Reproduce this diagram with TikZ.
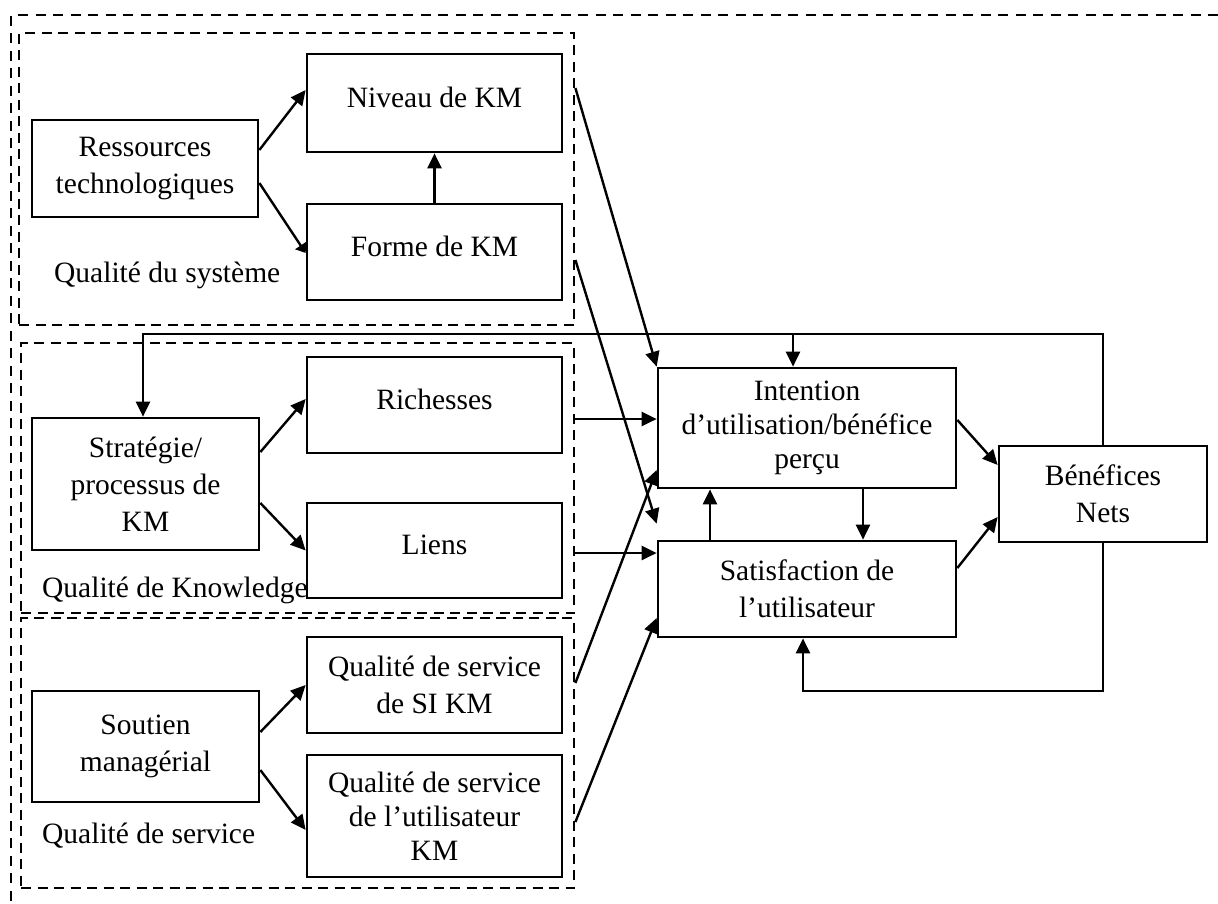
\documentclass[tikz,border=0pt]{standalone}
\usepackage{fontspec}
\setmainfont{Liberation Serif}
\usetikzlibrary{arrows.meta}
\tikzset{
  txt/.style={font=\fontsize{29.5}{37}\selectfont},
  box/.style={draw, line width=2.7pt, inner sep=0pt, align=center, txt},
  tight/.style={font=\fontsize{29.5}{34}\selectfont},
  oneline/.style={text depth=12pt},
  grp/.style={draw, line width=2.8pt, dash pattern=on 10pt off 6.5pt, inner sep=0pt},
  outerline/.style={line width=2.8pt, dash pattern=on 10pt off 7.5pt},
  lbl/.style={txt, inner sep=0pt},
  conn/.style={line width=2.4pt, -{Triangle[length=15pt,width=14pt]}},
  connstub/.style={line width=2.4pt, -{Triangle[length=9pt,width=13pt]}}
}
\begin{document}
\begin{tikzpicture}[x=1pt,y=-1pt]
\useasboundingbox (0,0) rectangle (1218,903);
\draw[outerline] (1218,15) -- (11,15) -- (11,903);
% groups
\node[grp, minimum width=555pt, minimum height=292pt] (g1) at (296.5,179) {};
\node[grp, minimum width=553pt, minimum height=270pt] (g2) at (297.5,478) {};
\node[grp, minimum width=553pt, minimum height=270pt] (g3) at (297.5,753) {};
% boxes
\node[box, minimum width=226pt, minimum height=97pt] (res) at (145,168.5) {Ressources\\technologiques};
\node[box, oneline, minimum width=255pt, minimum height=98pt] (niv) at (434.5,103) {Niveau de KM};
\node[box, oneline, minimum width=255pt, minimum height=96pt] (forme) at (434.5,252) {Forme de KM};
\node[box, minimum width=227pt, minimum height=132pt] (strat) at (145.5,484) {Stratégie/\\processus de\\KM};
\node[box, oneline, minimum width=255pt, minimum height=96pt] (rich) at (434.5,405) {Richesses};
\node[box, oneline, minimum width=255pt, minimum height=95pt] (liens) at (434.5,550.5) {Liens};
\node[box, minimum width=227pt, minimum height=111pt] (sout) at (145.5,746.5) {Soutien\\managérial};
\node[box, minimum width=255pt, minimum height=96pt] (sikm) at (434.5,685) {Qualité de service\\de SI KM};
\node[box, tight, minimum width=255pt, minimum height=122pt] (ukm) at (434.5,816) {Qualité de service\\de l’utilisateur\\KM};
\node[box, tight, minimum width=298pt, minimum height=120pt] (int) at (807,428) {Intention\\d’utilisation/bénéfice\\perçu};
\node[box, minimum width=298pt, minimum height=96pt] (sat) at (807,589) {Satisfaction de\\l’utilisateur};
\node[box, minimum width=208pt, minimum height=96pt] (ben) at (1103,494) {Bénéfices\\Nets};
% labels
\node[lbl, anchor=base west] (lsys) at (54,282) {Qualité du système};
\node[lbl, anchor=base west] (lkn) at (42,597) {Qualité de Knowledge};
\node[lbl, anchor=base west] (lsv) at (42,843) {Qualité de service};
% arrows inside groups
\draw[conn] ([yshift=18.5pt]res.east) -- ([yshift=13pt]niv.west);
\draw[connstub] ([yshift=-14.5pt]res.east) -- ([yshift=-1pt]forme.west);
\draw[conn] (forme.north) -- (niv.south);
\draw[conn] ([yshift=32pt]strat.east) -- ([yshift=6pt]rich.west);
\draw[conn] ([yshift=-19pt]strat.east) -- (liens.west);
\draw[conn] ([yshift=14.5pt]sout.east) -- (sikm.west);
\draw[conn] ([yshift=-23.5pt]sout.east) -- ([yshift=-14pt]ukm.west);
% arrows from groups
\draw[conn] ([yshift=91pt]g1.east) -- (int.north west);
\draw[conn] ([yshift=-81pt]g1.east) -- ([yshift=16pt]sat.north west);
\draw[conn] ([yshift=59pt]g2.east) -- ([yshift=9pt]int.west);
\draw[conn] ([yshift=-75pt]g2.east) -- ([yshift=36pt]sat.west);
\draw[conn] ([yshift=70pt]g3.east) -- ([yshift=-42pt]int.west);
\draw[conn] ([yshift=-69pt]g3.east) -- ([yshift=-29pt]sat.west);
% central arrows
\draw[conn] ([xshift=56pt]int.south) -- ([xshift=56pt]sat.north);
\draw[conn] ([xshift=-97pt]sat.north) -- ([xshift=-97pt]int.south);
\draw[conn] ([yshift=8pt]int.east) -- ([yshift=29pt]ben.west);
\draw[conn] ([yshift=21pt]sat.east) -- ([yshift=-23pt]ben.west);
% feedback loops
\coordinate (topy) at (0,334);
\coordinate (boty) at (0,691);
\coordinate (st) at ([xshift=-2.5pt]strat.north);
\coordinate (ib) at ([xshift=-14pt]int.north);
\coordinate (sb) at ([xshift=-4pt]sat.south);
\draw[conn] (ben.north) -- (ben.north |- topy) -| (st);
\draw[conn] (ib |- topy) -- (ib);
\draw[conn] (ben.south) -- (ben.south |- boty) -| (sb);
\end{tikzpicture}
\end{document}
